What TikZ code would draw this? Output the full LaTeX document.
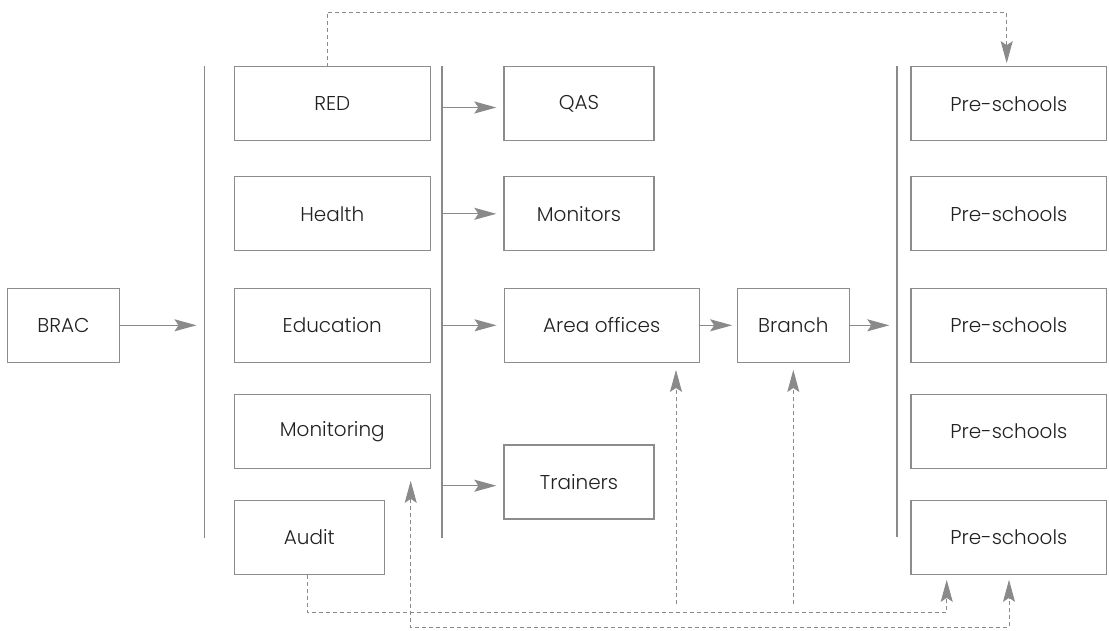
\documentclass[tikz,border=0pt]{standalone}
\usepackage{fontspec}
\setmainfont{Poppins}[UprightFont={* Light}]
\usetikzlibrary{arrows.meta}
\definecolor{boxgray}{HTML}{8C8C8C}
\definecolor{linegray}{HTML}{8A8A8A}
\definecolor{txt}{HTML}{222222}
\tikzset{
  box/.style={draw=boxgray, line width=1.3pt, text=txt, font=\fontsize{20}{23}\selectfont,
              inner sep=0pt, minimum height=74pt, anchor=center},
  bus/.style={draw=linegray, line width=1.5pt},
  arr/.style={draw=linegray, line width=1.3pt, -{Stealth[length=22pt,width=12pt,inset=4pt]}},
  darr/.style={draw=linegray, line width=0.9pt, dash pattern=on 4pt off 3pt,
               -{Stealth[length=22pt,width=12pt,inset=4pt]}},
  bidarr/.style={draw=linegray, line width=0.9pt, dash pattern=on 4pt off 3pt,
               {Stealth[length=22pt,width=12pt,inset=4pt]}-{Stealth[length=22pt,width=12pt,inset=4pt]}}
}
\begin{document}
\begin{tikzpicture}[x=1pt,y=-1pt]
\useasboundingbox (0,0) rectangle (1109,630);
% left boxes
\node[box, minimum width=112pt] (brac) at (63.5,325.3) {BRAC};
\node[box, minimum width=196pt] (red) at (332.3,103.8) {RED};
\node[box, minimum width=196pt] (health) at (332.3,213.7) {Health};
\node[box, minimum width=196pt] (edu) at (332.3,325.3) {Education};
\node[box, minimum width=196pt] (moni) at (332.3,431.2) {Monitoring};
\node[box, minimum width=150pt] (audit) at (309.4,537.2) {Audit};
% middle boxes
\node[box, minimum width=150pt] (qas) at (579,103.8) {QAS};
\node[box, minimum width=150pt] (monitors) at (579,213.8) {Monitors};
\node[box, minimum width=195pt] (area) at (601.7,325.3) {Area offices};
\node[box, minimum width=150pt] (trainers) at (579,482) {Trainers};
\node[box, minimum width=112pt] (branch) at (793.3,325.3) {Branch};
% pre-schools
\node[box, minimum width=195.7pt] (ps1) at (1008.9,103.8) {Pre-schools};
\node[box, minimum width=195.7pt] (ps2) at (1008.9,213.7) {Pre-schools};
\node[box, minimum width=195.7pt] (ps3) at (1008.9,325.3) {Pre-schools};
\node[box, minimum width=195.7pt] (ps4) at (1008.9,431.2) {Pre-schools};
\node[box, minimum width=195.7pt] (ps5) at (1008.9,537.2) {Pre-schools};
% bus lines
\coordinate (b1t) at (204.5,66); \coordinate (b1b) at (204.5,538);
\coordinate (b2t) at (442,66);   \coordinate (b2b) at (442,538);
\coordinate (b3t) at (896.8,66); \coordinate (b3b) at (896.8,537);
\draw[bus] (b1t) -- (b1b);
\draw[bus] (b2t) -- (b2b);
\draw[bus] (b3t) -- (b3b);
% solid arrows
\draw[arr, shorten >=8pt] (brac.east) -- (b1t |- brac.east);
\draw[arr, shorten >=7pt] (b2t |- 0,107.5) -- (qas.west |- 0,107.5);
\draw[arr, shorten >=7pt] (b2t |- monitors.west) -- (monitors.west);
\draw[arr, shorten >=7pt] (b2t |- area.west) -- (area.west);
\draw[arr, shorten >=7pt] (b2t |- 0,485.7) -- (trainers.west |- 0,485.7);
\draw[arr, shorten >=4.5pt] (area.east) -- (branch.west);
\draw[arr, shorten >=7.5pt] (branch.east) -- (b3t |- branch.east);
% dashed connectors
\coordinate (redtop) at (327,66.7);
\coordinate (topc1) at (327,12);
\coordinate (topc2) at (1006.7,12);
\draw[darr, shorten >=3pt] (redtop) -- (topc1) -- (topc2) -- (topc2 |- ps1.north);
\coordinate (aud1) at (307,612.3);
\coordinate (aud2) at (946.7,612.3);
\draw[darr, shorten >=5pt] (audit.south -| aud1) -- (aud1) -- (aud2) -- (aud2 |- ps5.south);
\coordinate (mon1) at (410.7,627.3);
\coordinate (mon2) at (1009,627.3);
\draw[bidarr, shorten <=12pt, shorten >=5pt] (moni.south -| mon1) -- (mon1) -- (mon2) -- (mon2 |- ps5.south);
\coordinate (areaup) at (676,604);
\coordinate (branchup) at (793.3,604);
\draw[darr, shorten >=7pt] (areaup) -- (areaup |- area.south);
\draw[darr, shorten >=7pt] (branchup) -- (branchup |- branch.south);
\end{tikzpicture}
\end{document}
